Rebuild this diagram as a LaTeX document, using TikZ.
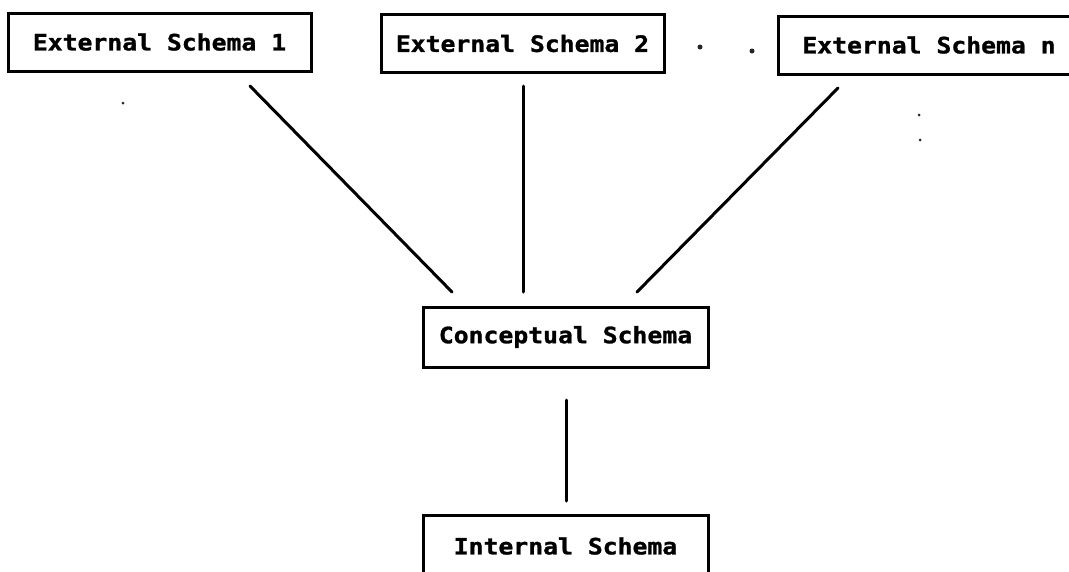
\documentclass[tikz,border=0pt]{standalone}
\usepackage{fontspec}
\newfontfamily\boxfont[FakeStretch=1.1,FakeBold=1.2]{DejaVu Sans Mono Bold}
\begin{document}
\begin{tikzpicture}[x=1pt,y=-1pt,
  schemabox/.style={draw=black, line width=3pt, minimum height=58pt,
    inner sep=0pt, font=\boxfont\fontsize{22.5}{24}\selectfont, text=black},
  link/.style={line width=3pt, line cap=round, black},
  speck/.style={fill=black!85, draw=none}]
\useasboundingbox (0,0) rectangle (1069,571);
\clip (0,0) rectangle (1069,571);
\fill[white] (0,0) rectangle (1069,571);
\node[schemabox, minimum width=303pt] (e1) at (159.5,42) {External Schema 1};
\node[schemabox, minimum width=283pt] (e2) at (522.5,43.5) {External Schema 2};
\node[schemabox, minimum width=302pt] (en) at (929,45) {External Schema n};
\node[schemabox, minimum width=285pt, minimum height=60pt] (cs) at (565.5,337) {Conceptual Schema};
\node[schemabox, minimum width=285pt, minimum height=62pt] (is) at (565.5,546) {Internal Schema};
\coordinate (e1b) at (250,86);
\coordinate (cs1) at (452,292);
\coordinate (e2b) at (523.5,86);
\coordinate (cs2) at (523.5,292);
\coordinate (enb) at (838,88);
\coordinate (cs3) at (637,292);
\coordinate (csb) at (566,400);
\coordinate (ist) at (566,501);
\draw[link] (e1b) -- (cs1);
\draw[link] (e2b) -- (cs2);
\draw[link] (enb) -- (cs3);
\draw[link] (csb) -- (ist);
\node[speck, circle, minimum size=5pt, inner sep=0pt] (d1) at (700,47) {};
\node[speck, circle, minimum size=5pt, inner sep=0pt] (d2) at (752,51) {};
\node[speck, circle, minimum size=3pt, inner sep=0pt] (s1) at (123,103) {};
\node[speck, circle, minimum size=3pt, inner sep=0pt] (s2) at (919,115) {};
\node[speck, circle, minimum size=3pt, inner sep=0pt] (s3) at (920,140) {};
\end{tikzpicture}
\end{document}
